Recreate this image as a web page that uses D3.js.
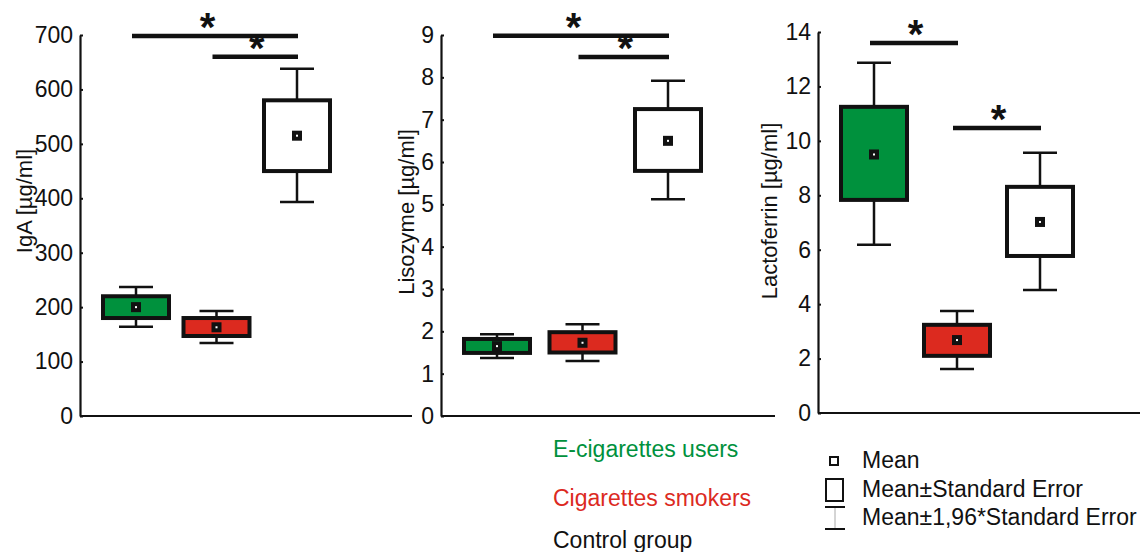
<!doctype html>
<html>
<head>
<meta charset="utf-8" />
<title>IgA, Lisozyme, Lactoferrin</title>
<script src="https://cdn.jsdelivr.net/npm/d3@7/dist/d3.min.js"></script>
<style>
  body { margin: 0; background: #fff; }
  svg text { font-family: "Liberation Sans", Arial, sans-serif; }
</style>
</head>
<body>
<svg id="chart" width="1140" height="552"></svg>
<script>
// groups and colours
var groups = ['E-cigarettes users', 'Cigarettes smokers', 'Control group'];
var groupColors = ['#00913d', '#dc2a1f', '#ffffff'];
var legendTextColors = ['#00913d', '#dc2a1f', '#111111'];

// IgA [µg/ml]
var igaMean = [200, 163, 515];
var igaSeLo = [180, 147, 450];
var igaSeHi = [220, 180, 580];
var igaCiLo = [164, 134, 393];
var igaCiHi = [237, 193, 638];
var igaTicks = [0, 100, 200, 300, 400, 500, 600, 700];
var igaSig = [{from: 0, to: 2, y: 698}, {from: 1, to: 2, y: 660}];

// Lisozyme [µg/ml]
var lisMean = [1.65, 1.73, 6.5];
var lisSeLo = [1.49, 1.5, 5.79];
var lisSeHi = [1.82, 1.98, 7.25];
var lisCiLo = [1.37, 1.3, 5.12];
var lisCiHi = [1.93, 2.17, 7.92];
var lisTicks = [0, 1, 2, 3, 4, 5, 6, 7, 8, 9];
var lisSig = [{from: 0, to: 2, y: 8.98}, {from: 1, to: 2, y: 8.48}];

// Lactoferrin [µg/ml]
var lacMean = [9.5, 2.68, 7.02];
var lacSeLo = [7.83, 2.1, 5.77];
var lacSeHi = [11.25, 3.24, 8.31];
var lacCiLo = [6.18, 1.62, 4.52];
var lacCiHi = [12.87, 3.75, 9.56];
var lacTicks = [0, 2, 4, 6, 8, 10, 12, 14];
var lacSig = [{from: 0, to: 1, y: 13.6}, {from: 1, to: 2, y: 10.47}];

var legendItems = ['Mean', 'Mean\u00b1Standard Error', 'Mean\u00b11,96*Standard Error'];

var panels = [
  {title: 'IgA [\u00b5g/ml]', mean: igaMean, seLo: igaSeLo, seHi: igaSeHi, ciLo: igaCiLo, ciHi: igaCiHi,
   ticks: igaTicks, sig: igaSig,
   axisX: 80, xEnd: 412, yTop: 35, yBot: 416, c0: 136, c2: 297, titleX: 24, titleY: 201},
  {title: 'Lisozyme [\u00b5g/ml]', mean: lisMean, seLo: lisSeLo, seHi: lisSeHi, ciLo: lisCiLo, ciHi: lisCiHi,
   ticks: lisTicks, sig: lisSig,
   axisX: 441, xEnd: 775, yTop: 35, yBot: 416, c0: 497, c2: 668, titleX: 406, titleY: 212},
  {title: 'Lactoferrin [\u00b5g/ml]', mean: lacMean, seLo: lacSeLo, seHi: lacSeHi, ciLo: lacCiLo, ciHi: lacCiHi,
   ticks: lacTicks, sig: lacSig,
   axisX: 818, xEnd: 1140, yTop: 32, yBot: 413, c0: 874, c2: 1040, titleX: 769, titleY: 211}
];

var svg = d3.select('#chart');
var boxHalf = 33, capHalf = 17;

panels.forEach(function(p) {
  var y = d3.scaleLinear()
      .domain([0, d3.max(p.ticks)])
      .range([p.yBot, p.yTop]);
  var x = d3.scalePoint()
      .domain(d3.range(groups.length))
      .range([p.c0, p.c2]);

  var g = svg.append('g');

  // y axis
  var ax = g.append('g')
      .attr('transform', 'translate(' + p.axisX + ',0)')
      .call(d3.axisLeft(y).tickValues(p.ticks).tickSizeInner(-3).tickSizeOuter(0).tickPadding(7));
  ax.select('.domain').attr('stroke', '#111').attr('stroke-width', 2.2);
  ax.selectAll('.tick line').attr('stroke', '#111').attr('stroke-width', 2);
  ax.selectAll('.tick text')
      .attr('fill', '#111')
      .style('font-size', '23px');

  // x baseline
  g.append('line')
      .attr('x1', p.axisX).attr('x2', p.xEnd)
      .attr('y1', y(0)).attr('y2', y(0))
      .attr('stroke', '#111').attr('stroke-width', 2.2);

  // title
  g.append('text')
      .attr('transform', 'translate(' + p.titleX + ',' + p.titleY + ') rotate(-90)')
      .attr('text-anchor', 'middle')
      .attr('dy', '0.35em')
      .attr('fill', '#111')
      .style('font-size', '22px')
      .text(p.title);

  var idx = d3.range(groups.length);

  // whiskers
  g.selectAll('line.whi-up').data(idx).enter().append('line')
      .attr('x1', function(i) { return x(i); }).attr('x2', function(i) { return x(i); })
      .attr('y1', function(i) { return y(p.seHi[i]); })
      .attr('y2', function(i) { return y(p.ciHi[i]); })
      .attr('stroke', '#111').attr('stroke-width', 2.5);
  g.selectAll('line.whi-dn').data(idx).enter().append('line')
      .attr('x1', function(i) { return x(i); }).attr('x2', function(i) { return x(i); })
      .attr('y1', function(i) { return y(p.seLo[i]); })
      .attr('y2', function(i) { return y(p.ciLo[i]); })
      .attr('stroke', '#111').attr('stroke-width', 2.5);
  ['ciHi', 'ciLo'].forEach(function(k) {
    g.selectAll('line.cap-' + k).data(idx).enter().append('line')
        .attr('x1', function(i) { return x(i) - capHalf; })
        .attr('x2', function(i) { return x(i) + capHalf; })
        .attr('y1', function(i) { return y(p[k][i]); })
        .attr('y2', function(i) { return y(p[k][i]); })
        .attr('stroke', '#111').attr('stroke-width', 2.5);
  });

  // boxes
  g.selectAll('rect.box').data(idx).enter().append('rect')
      .attr('x', function(i) { return x(i) - boxHalf; })
      .attr('width', boxHalf * 2)
      .attr('y', function(i) { return y(p.seHi[i]); })
      .attr('height', function(i) { return y(p.seLo[i]) - y(p.seHi[i]); })
      .attr('fill', function(i) { return groupColors[i]; })
      .attr('stroke', '#111').attr('stroke-width', 4);

  // mean markers
  g.selectAll('rect.mean').data(idx).enter().append('rect')
      .attr('x', function(i) { return x(i) - 5; })
      .attr('y', function(i) { return y(p.mean[i]) - 5; })
      .attr('width', 10).attr('height', 10)
      .attr('fill', '#111');
  g.selectAll('rect.dot').data(idx).enter().append('rect')
      .attr('x', function(i) { return x(i) - 1; })
      .attr('y', function(i) { return y(p.mean[i]) - 1; })
      .attr('width', 2).attr('height', 2)
      .attr('fill', '#fff');

  // significance bars (long bars have their star a little left of centre)
  g.selectAll('line.sig').data(p.sig).enter().append('line')
      .attr('x1', function(d) { return x(d.from) - 4; })
      .attr('x2', function(d) { return x(d.to) + 1; })
      .attr('y1', function(d) { return y(d.y); })
      .attr('y2', function(d) { return y(d.y); })
      .attr('stroke', '#111').attr('stroke-width', 4.5);
  g.selectAll('text.star').data(p.sig).enter().append('text')
      .attr('x', function(d) {
        var shift = (d.to - d.from) > 1 ? -9 : 0;
        return (x(d.from) + x(d.to)) / 2 + shift;
      })
      .attr('y', function(d) { return y(d.y) + 5; })
      .attr('text-anchor', 'middle')
      .attr('fill', '#111')
      .style('font-size', '40px')
      .style('font-weight', 'bold')
      .text('*');
});

// group legend
var gl = svg.append('g');
var groupBase = [457, 506, 548];
gl.selectAll('text').data(groups).enter().append('text')
    .attr('x', 553)
    .attr('y', function(d, i) { return groupBase[i]; })
    .attr('fill', function(d, i) { return legendTextColors[i]; })
    .style('font-size', '23px')
    .text(function(d) { return d; });

// symbol legend
var sl = svg.append('g');
var itemBase = [468, 497, 525];
sl.selectAll('text').data(legendItems).enter().append('text')
    .attr('x', 862)
    .attr('y', function(d, i) { return itemBase[i]; })
    .attr('fill', '#111')
    .style('font-size', '23px')
    .text(function(d) { return d; });
sl.append('rect')
    .attr('x', 830).attr('y', 457).attr('width', 8).attr('height', 8)
    .attr('fill', '#fff').attr('stroke', '#111').attr('stroke-width', 2);
sl.append('rect')
    .attr('x', 826).attr('y', 479).attr('width', 17).attr('height', 22)
    .attr('fill', '#fff').attr('stroke', '#111').attr('stroke-width', 2);
sl.append('line')
    .attr('x1', 835).attr('x2', 835).attr('y1', 507).attr('y2', 529)
    .attr('stroke', '#aaa').attr('stroke-width', 1);
[507, 529].forEach(function(yy) {
  sl.append('line')
      .attr('x1', 825).attr('x2', 845).attr('y1', yy).attr('y2', yy)
      .attr('stroke', '#111').attr('stroke-width', 2);
});
</script>
</body>
</html>
